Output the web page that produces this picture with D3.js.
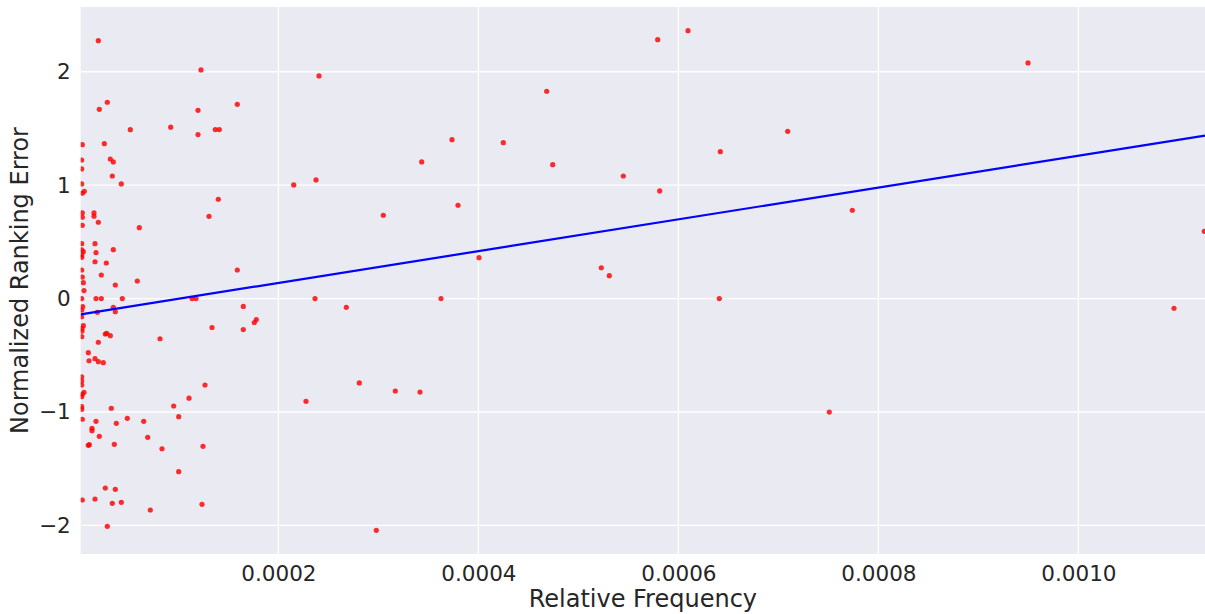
<!DOCTYPE html>
<html>
<head>
<meta charset="utf-8">
<script src="https://cdn.jsdelivr.net/npm/d3@7"></script>
<style>
	body { margin: 0; background: #fff; }
	svg { display: block; font-family: "DejaVu Sans", sans-serif; }
</style>
</head>
<body>
<svg id="chart" width="1205" height="614"></svg>
<script>
// relative frequency of each item
var freq = [
	19.9e-6, 28.9e-6, 20.9e-6, 51.9e-6, 92.3e-6, 3.9e-6, 25.9e-6, 31.9e-6, 34.9e-6, 3.3e-6,
	3.3e-6, 33.9e-6, 3.3e-6, 42.9e-6, 3.9e-6, 5.9e-6, 3.9e-6, 3.9e-6, 15.6e-6, 15.6e-6,
	19.9e-6, 3.9e-6, 60.9e-6, 3.3e-6, 16.6e-6, 3.3e-6, 4.9e-6, 3.3e-6, 3.3e-6, 34.9e-6,
	17.6e-6, 16.6e-6, 27.9e-6, 3.3e-6, 22.9e-6, 3.9e-6, 4.9e-6, 58.9e-6, 36.9e-6, 5.6e-6,
	3.3e-6, 17.6e-6, 22.9e-6, 43.9e-6, 4.3e-6, 3.3e-6, 34.9e-6, 36.9e-6, 18.9e-6, 3.3e-6,
	4.9e-6, 3.6e-6, 3.6e-6, 3.3e-6, 26.9e-6, 28.3e-6, 31.9e-6, 19.9e-6, 81.6e-6, 9.9e-6,
	10.6e-6, 16.6e-6, 19.9e-6, 24.9e-6, 3.3e-6, 3.3e-6, 3.3e-6, 5.6e-6, 3.9e-6, 3.3e-6,
	3.3e-6, 3.3e-6, 32.9e-6, 95.3e-6, 3.9e-6, 17.6e-6, 37.9e-6, 48.9e-6, 65.3e-6, 100.3e-6,
	13.6e-6, 13.6e-6, 20.9e-6, 69.3e-6, 9.9e-6, 10.9e-6, 35.9e-6, 83.6e-6, 100.3e-6, 26.9e-6,
	36.9e-6, 3.9e-6, 16.6e-6, 33.9e-6, 42.9e-6, 71.9e-6, 28.9e-6, 122.6e-6, 158.9e-6, 119.6e-6,
	119.6e-6, 136.9e-6, 140.9e-6, 139.9e-6, 130.6e-6, 158.9e-6, 113.6e-6, 117.6e-6, 164.9e-6, 133.6e-6,
	164.9e-6, 175.9e-6, 177.9e-6, 126.6e-6, 110.6e-6, 124.6e-6, 123.6e-6, 240.6e-6, 215.3e-6, 237.6e-6,
	304.9e-6, 343.3e-6, 373.6e-6, 379.6e-6, 424.9e-6, 468.3e-6, 474.3e-6, 400.6e-6, 236.6e-6, 362.6e-6,
	267.9e-6, 280.9e-6, 316.9e-6, 341.6e-6, 227.6e-6, 297.9e-6, 579.3e-6, 609.6e-6, 544.9e-6, 581.3e-6,
	641.9e-6, 709.3e-6, 773.9e-6, 522.9e-6, 530.9e-6, 640.9e-6, 949.6e-6, 750.9e-6, 1095.6e-6, 1125.9e-6
];

// normalized ranking error, same order
var rankError = [
	2.274, 1.731, 1.669, 1.489, 1.511, 1.357, 1.366, 1.231, 1.205, 1.222,
	1.143, 1.081, 1.011, 1.011, 0.929, 0.946, 0.755, 0.717, 0.755, 0.726,
	0.673, 0.646, 0.625, 0.484, 0.484, 0.429, 0.414, 0.384, 0.364, 0.431,
	0.405, 0.325, 0.314, 0.252, 0.208, 0.190, 0.140, 0.155, 0.120, 0.071,
	0.0, 0.0, 0.0, 0.0, -0.071, -0.101, -0.077, -0.116, -0.121, -0.160,
	-0.239, -0.262, -0.286, -0.336, -0.312, -0.306, -0.327, -0.385, -0.354, -0.477,
	-0.548, -0.530, -0.556, -0.565, -0.691, -0.727, -0.762, -0.826, -0.844, -0.865,
	-0.953, -0.976, -0.967, -0.947, -1.064, -1.082, -1.100, -1.056, -1.082, -1.041,
	-1.144, -1.165, -1.214, -1.223, -1.294, -1.288, -1.285, -1.324, -1.526, -1.670,
	-1.682, -1.776, -1.767, -1.805, -1.796, -1.864, -2.008, 2.016, 1.713, 1.660,
	1.446, 1.490, 1.490, 0.876, 0.725, 0.252, 0.0, 0.0, -0.069, -0.255,
	-0.273, -0.211, -0.185, -0.762, -0.878, -1.303, -1.814, 1.963, 1.002, 1.046,
	0.735, 1.205, 1.401, 0.823, 1.375, 1.828, 1.181, 0.361, 0.0, 0.0,
	-0.077, -0.744, -0.815, -0.824, -0.906, -2.043, 2.283, 2.362, 1.081, 0.949,
	1.295, 1.475, 0.779, 0.272, 0.202, 0.0, 2.078, -1.001, -0.085, 0.593
];

// least squares fit: [intercept, slope]
var fitLine = [-0.142, 1401];

var xTicks = [0.0002, 0.0004, 0.0006, 0.0008, 0.0010];
var yTicks = [-2, -1, 0, 1, 2];
var xDomain = [2.3e-6, 1.1266e-3];
var yDomain = [-2.252, 2.571];

var svg = d3.select("#chart"),
	margin = { top: 7, left: 80.7, right: 0, bottom: 60 },
	width = +svg.attr("width"),
	height = +svg.attr("height");

var x = d3.scaleLinear().domain(xDomain).range([margin.left, width - margin.right]);
var y = d3.scaleLinear().domain(yDomain).range([height - margin.bottom, margin.top]);

svg.append("defs").append("clipPath").attr("id", "plotclip")
	.append("rect")
	.attr("x", margin.left).attr("y", margin.top)
	.attr("width", width - margin.left - margin.right)
	.attr("height", height - margin.top - margin.bottom);

svg.append("rect")
	.attr("x", margin.left).attr("y", margin.top)
	.attr("width", width - margin.left - margin.right)
	.attr("height", height - margin.top - margin.bottom)
	.attr("fill", "#eaeaf2");

// grid lines
var grid = svg.append("g").attr("class", "grid");
grid.selectAll(".gx").data(xTicks).enter().append("line")
	.attr("x1", function(d) { return x(d); })
	.attr("x2", function(d) { return x(d); })
	.attr("y1", margin.top).attr("y2", height - margin.bottom)
	.attr("stroke", "#fff").attr("stroke-width", 1.3);
grid.selectAll(".gy").data(yTicks).enter().append("line")
	.attr("y1", function(d) { return y(d); })
	.attr("y2", function(d) { return y(d); })
	.attr("x1", margin.left).attr("x2", width - margin.right)
	.attr("stroke", "#fff").attr("stroke-width", 1.3);

// axes (labels only, seaborn darkgrid has no spines)
var xAxis = svg.append("g")
	.attr("transform", "translate(0," + (height - margin.bottom) + ")")
	.call(d3.axisBottom(x).tickValues(xTicks).tickFormat(d3.format(".4f")).tickSize(0).tickPadding(12));
var yAxis = svg.append("g")
	.attr("transform", "translate(" + margin.left + ",0)")
	.call(d3.axisLeft(y).tickValues(yTicks).tickFormat(function(d) {
		return d < 0 ? "\u2212" + Math.abs(d) : String(d);
	}).tickSize(0).tickPadding(10));
[xAxis, yAxis].forEach(function(a) {
	a.select(".domain").remove();
	a.selectAll("text")
		.attr("font-family", "DejaVu Sans, sans-serif")
		.attr("font-size", 21.5)
		.attr("fill", "#262626");
});

svg.append("text")
	.attr("x", (margin.left + width - margin.right) / 2)
	.attr("y", 607)
	.attr("text-anchor", "middle")
	.attr("font-size", 24)
	.attr("fill", "#262626")
	.text("Relative Frequency");
svg.append("text")
	.attr("transform", "translate(28," + ((margin.top + height - margin.bottom) / 2) + ") rotate(-90)")
	.attr("text-anchor", "middle")
	.attr("font-size", 24)
	.attr("fill", "#262626")
	.text("Normalized Ranking Error");

var plot = svg.append("g").attr("clip-path", "url(#plotclip)");

var points = freq.map(function(f, i) { return { f: f, e: rankError[i] }; });
plot.selectAll("circle").data(points).enter().append("circle")
	.attr("cx", function(d) { return x(d.f); })
	.attr("cy", function(d) { return y(d.e); })
	.attr("r", 2.6)
	.attr("fill", "red")
	.attr("fill-opacity", 0.82);

var line = d3.line()
	.x(function(d) { return x(d); })
	.y(function(d) { return y(fitLine[0] + fitLine[1] * d); });
plot.append("path")
	.attr("d", line(xDomain))
	.attr("fill", "none")
	.attr("stroke", "#0000ff")
	.attr("stroke-width", 2.2);
</script>
</body>
</html>
